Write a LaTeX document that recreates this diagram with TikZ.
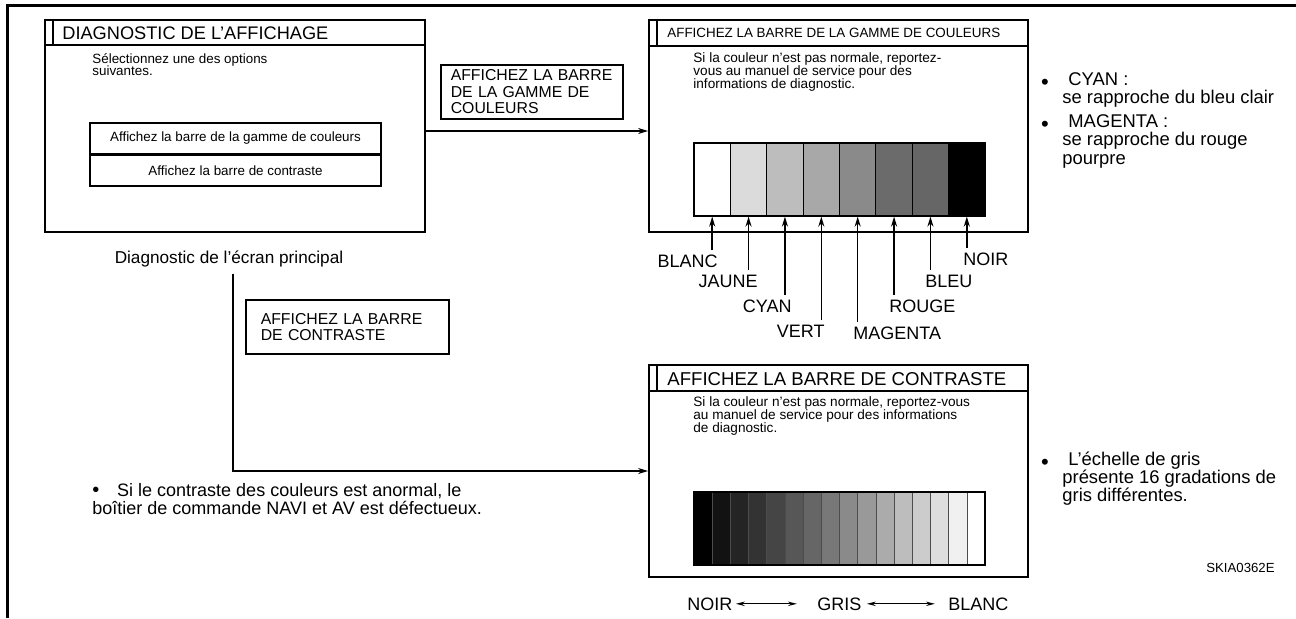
\documentclass[tikz,border=0pt]{standalone}
\usepackage{fontspec}
\setmainfont{Liberation Sans}
\usetikzlibrary{arrows.meta,positioning,fit}
\newcommand{\fsz}[2]{\fontsize{#1}{#2}\selectfont\lineskiplimit=-10pt\relax}
\newcommand{\txtlines}[1]{\vtop{\halign{##\hfil\cr#1\crcr}}}
\newcommand{\bigdot}{{\fontsize{10}{10}\selectfont\textbullet}}

\tikzset{
  frame/.style={line width=1.5pt},
  screen/.style={draw, line width=0.9pt, inner sep=0pt},
  titlebar/.style={line width=0.9pt},
  menuitem/.style={draw, line width=0.9pt, minimum width=145.5pt, minimum height=15.25pt, inner sep=0pt, font=\fsz{6.7}{8}},
  tagbox/.style={draw, line width=0.8pt, align=left, anchor=north west, inner xsep=5pt, inner ysep=0pt, minimum height=27pt, font=\fsz{7.9}{8.2}},
  flow/.style={line width=0.75pt, -{Stealth[length=5pt,width=3pt]}},
  twoway/.style={line width=0.6pt, {Stealth[length=4.5pt,width=2.2pt]}-{Stealth[length=4.5pt,width=2.2pt]}},
  colcell/.style={draw, line width=0.6pt, minimum width=18.19pt, minimum height=36.5pt, inner sep=0pt},
  graycell/.style={draw=black!70, line width=0.3pt, minimum width=9.09pt, minimum height=36.5pt, inner sep=0pt},
  collbl/.style={inner xsep=0pt, inner ysep=2.5pt, font=\fsz{9}{10}},
  body/.style={anchor=base west, inner sep=0pt},
  dotmark/.style={anchor=base, inner sep=0pt, font=\fsz{11}{12}}
}

\begin{document}
\begin{tikzpicture}[x=0.5pt, y=-0.5pt]
  \useasboundingbox (0,0) rectangle (1296,618);
  \draw[frame] (7.5,618) -- (7.5,5.5) -- (1296,5.5);

  % main screen
  \node[screen, fit={(45,20) (425,232)}] (mainscr) {};
  \draw[titlebar] (45,45) -- (425,45) (53,20) -- (53,45);
  \node[body, font=\fsz{9.1}{10}] (maintitle) at (62,39) {DIAGNOSTIC DE L’AFFICHAGE};
  \node[body, font=\fsz{6.7}{6}] (mainbody) at (92,63) {\txtlines{Sélectionnez une des options\cr suivantes.}};
  \node[menuitem] (optcol) at (235.5,138.5) {Affichez la barre de la gamme de couleurs};
  \node[menuitem, below=0pt of optcol] (optctr) {Affichez la barre de contraste};
  \node[anchor=base, font=\fsz{8.6}{10}] (mainlbl) at (229,263) {Diagnostic de l’écran principal};

  % colour bar screen
  \node[screen, fit={(649,20) (1028,232)}] (colscr) {};
  \draw[titlebar] (649,46) -- (1028,46) (657,20) -- (657,46);
  \node[body, font=\fsz{6.7}{8}] (coltitle) at (667,37) {AFFICHEZ LA BARRE DE LA GAMME DE COULEURS};
  \node[body, font=\fsz{6.8}{6.5}] (colbody) at (693,62) {\txtlines{Si la couleur n’est pas normale, reportez-\cr vous au manuel de service pour des\cr informations de diagnostic.}};
  \foreach \i/\shade in {1/white,2/black!14,3/black!26,4/black!34,5/black!46,6/black!58,7/black!60,8/black}
    \node[colcell, fill=\shade] (col\i) at ({694+36.375*(\i-0.5)},179.5) {};
  \foreach \i/\name/\x/\y/\side in {1/BLANC/718/250/north east, 2/JAUNE/758/270/north east,
      3/CYAN/792/295/north east, 4/VERT/825/320/north east, 5/MAGENTA/853/322/north west,
      6/ROUGE/889/295/north west, 7/BLEU/925/270/north west, 8/NOIR/963/248/north west}
  {
    \node[collbl, anchor=\side] (lbl\i) at (\x,\y) {\name};
    \draw[flow] (col\i.south |- lbl\i.north) -- (col\i.south);
  }

  % contrast bar screen
  \node[screen, fit={(649,365) (1028,577)}] (ctrscr) {};
  \draw[titlebar] (649,391) -- (1028,391) (657,365) -- (657,391);
  \node[body, font=\fsz{9.3}{10}] (ctrtitle) at (667,385) {AFFICHEZ LA BARRE DE CONTRASTE};
  \node[body, font=\fsz{6.8}{6.7}] (ctrbody) at (693,406) {\txtlines{Si la couleur n’est pas normale, reportez-vous\cr au manuel de service pour des informations\cr de diagnostic.}};
  \foreach \i in {1,...,16}
  {
    \pgfmathtruncatemacro{\lev}{100-(\i-1)*100/15}
    \node[graycell, fill=black!\lev] (gr\i) at ({694+18.1875*(\i-0.5)},528.5) {};
  }
  \draw[line width=0.9pt] (gr1.north west) rectangle (gr16.south east);
  \node[anchor=base west, inner xsep=1.5pt, font=\fsz{9}{10}] (noir) at (684,610) {NOIR};
  \node[anchor=base west, inner xsep=1.5pt, font=\fsz{9}{10}] (gris) at (814,610) {GRIS};
  \node[anchor=base west, inner xsep=1.5pt, font=\fsz{9}{10}] (blancg) at (945,610) {BLANC};
  \draw[twoway, shorten >=8.5pt] (noir.east) -- (gris.west);
  \draw[twoway, shorten <=1pt, shorten >=5pt] (gris.east) -- (blancg.west);

  % choices
  \node[tagbox, text width=81pt] (tagcol) at (440,64) {AFFICHEZ LA BARRE\\DE LA GAMME DE\\COULEURS};
  \node[tagbox, text width=86.5pt, inner xsep=7.5pt] (tagctr) at (245,299) {AFFICHEZ LA BARRE\\DE CONTRASTE};
  \draw[flow] ([yshift=-2.5pt]mainscr.east) -- ([yshift=-2.5pt]colscr.west);
  \draw[flow] ([xshift=2pt]mainlbl.south) |- (ctrscr.west);

  % notes
  \node[dotmark] (dot1) at (1045,89) {\textbullet};
  \node[body, font=\fsz{9.2}{9.2}] (cyannote) at (1062,85) {\txtlines{\hspace*{3pt}CYAN :\cr se rapproche du bleu clair}};
  \node[dotmark] (dot2) at (1045,131) {\textbullet};
  \node[body, font=\fsz{9.2}{9.4}] (magnote) at (1062,127) {\txtlines{\hspace*{3pt}MAGENTA :\cr se rapproche du rouge\cr pourpre}};
  \node[dotmark] (dot3) at (1045,469) {\textbullet};
  \node[body, font=\fsz{9.2}{9.2}] (grisnote) at (1062,465) {\txtlines{\hspace*{3pt}L’échelle de gris\cr présente 16 gradations de\cr gris différentes.}};
  \node[body, font=\fsz{9}{9}] (navinote) at (92,496) {\txtlines{\bigdot\hspace*{8.9pt}Si le contraste des couleurs est anormal, le\cr boîtier de commande NAVI et AV est défectueux.}};
  \node[anchor=base east, inner sep=0pt, font=\fsz{6.6}{8}] (figid) at (1275,572) {SKIA0362E};
\end{tikzpicture}
\end{document}
